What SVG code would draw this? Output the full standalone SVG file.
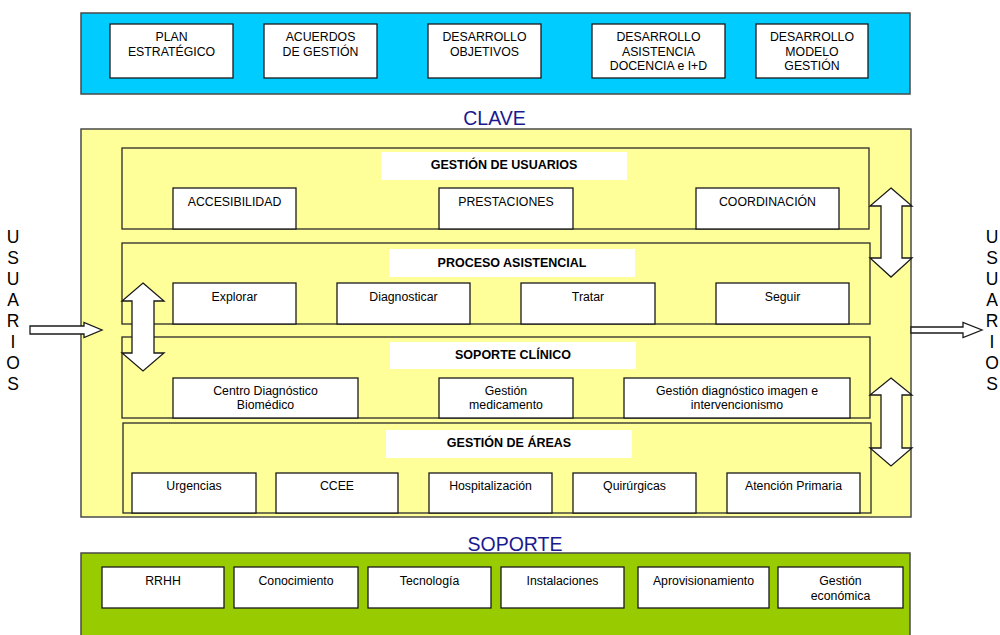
<svg xmlns="http://www.w3.org/2000/svg" width="1000" height="635" viewBox="0 0 1000 635">
<style>
text{font-family:"Liberation Sans",Arial,sans-serif;fill:#000;text-anchor:middle}
.t{font-size:12.3px}
.b{font-size:12.5px;font-weight:bold}
.hdr{font-size:19.5px;fill:#1a1a8f}
.usr{font-size:17.5px}
.box{fill:#fff;stroke:#1a1a1a;stroke-width:1.3}
.lane{fill:#ffff99;stroke:#2a2a2a;stroke-width:1.3}
.band{stroke:#4a4a4a;stroke-width:1.5}
.ttl{fill:#fff;stroke:none}
.arr{fill:#fff;stroke:#1a1a1a;stroke-width:1.3;stroke-linejoin:miter}
</style>
<rect width="1000" height="635" fill="#fff"/>

<g id="estrategia">
<rect class="band" x="81" y="13" width="829" height="81" fill="#00ccff"/>
<g id="plan"><rect class="box" x="110" y="24" width="123" height="54"/><text class="t" x="171.5" y="41">PLAN</text><text class="t" x="171.5" y="55.5">ESTRATÉGICO</text></g>
<g id="acuerdos"><rect class="box" x="264" y="24" width="113" height="54"/><text class="t" x="320.5" y="41">ACUERDOS</text><text class="t" x="320.5" y="55.5">DE GESTIÓN</text></g>
<g id="objetivos"><rect class="box" x="428" y="24" width="113" height="54"/><text class="t" x="484.5" y="41">DESARROLLO</text><text class="t" x="484.5" y="55.5">OBJETIVOS</text></g>
<g id="asistencia"><rect class="box" x="592" y="24" width="133" height="54"/><text class="t" x="658.5" y="41">DESARROLLO</text><text class="t" x="658.5" y="55.5">ASISTENCIA</text><text class="t" x="658.5" y="70">DOCENCIA e I+D</text></g>
<g id="modelo"><rect class="box" x="756" y="24" width="112" height="54"/><text class="t" x="812" y="41">DESARROLLO</text><text class="t" x="812" y="55.5">MODELO</text><text class="t" x="812" y="70">GESTIÓN</text></g>
</g>

<text class="hdr" x="494.5" y="125">CLAVE</text>

<g id="clave">
<rect class="band" x="81" y="129" width="830" height="388" fill="#ffff99"/>
<g id="gestion-usuarios">
<rect class="lane" x="122" y="148" width="747" height="81"/>
<rect class="ttl" x="381" y="152" width="246" height="28"/>
<text class="b" x="504" y="169">GESTIÓN DE USUARIOS</text>
<g id="accesibilidad"><rect class="box" x="173" y="188" width="123" height="41"/><text class="t" x="234.5" y="206">ACCESIBILIDAD</text></g>
<g id="prestaciones"><rect class="box" x="439" y="188" width="134" height="41"/><text class="t" x="506" y="206">PRESTACIONES</text></g>
<g id="coordinacion"><rect class="box" x="696" y="188" width="143" height="41"/><text class="t" x="767.5" y="206">COORDINACIÓN</text></g>
</g>
<g id="proceso-asistencial">
<rect class="lane" x="122" y="243" width="748" height="81"/>
<rect class="ttl" x="389" y="249" width="246" height="28"/>
<text class="b" x="512" y="267">PROCESO ASISTENCIAL</text>
<g id="explorar"><rect class="box" x="173" y="283" width="123" height="41"/><text class="t" x="234.5" y="300.5">Explorar</text></g>
<g id="diagnosticar"><rect class="box" x="337" y="283" width="133" height="41"/><text class="t" x="403.5" y="300.5">Diagnosticar</text></g>
<g id="tratar"><rect class="box" x="521" y="283" width="134" height="41"/><text class="t" x="588" y="300.5">Tratar</text></g>
<g id="seguir"><rect class="box" x="716" y="283" width="133" height="41"/><text class="t" x="782.5" y="300.5">Seguir</text></g>
</g>
<g id="soporte-clinico">
<rect class="lane" x="122" y="337" width="748" height="81"/>
<rect class="ttl" x="390" y="342" width="246" height="27"/>
<text class="b" x="513" y="359">SOPORTE CLÍNICO</text>
<g id="centro-diagnostico"><rect class="box" x="173" y="378" width="185" height="40"/><text class="t" x="265.5" y="395">Centro Diagnóstico</text><text class="t" x="265.5" y="409">Biomédico</text></g>
<g id="gestion-medicamento"><rect class="box" x="439" y="378" width="134" height="40"/><text class="t" x="506" y="395">Gestión</text><text class="t" x="506" y="409">medicamento</text></g>
<g id="diagnostico-imagen"><rect class="box" x="624" y="378" width="226" height="40"/><text class="t" x="737" y="395">Gestión diagnóstico imagen e</text><text class="t" x="737" y="409">intervencionismo</text></g>
</g>
<g id="gestion-areas">
<rect class="lane" x="123" y="423" width="748" height="90"/>
<rect class="ttl" x="386" y="430" width="246" height="28"/>
<text class="b" x="509" y="447">GESTIÓN DE ÁREAS</text>
<g id="urgencias"><rect class="box" x="132" y="473" width="124" height="40"/><text class="t" x="194" y="490">Urgencias</text></g>
<g id="ccee"><rect class="box" x="276" y="473" width="122" height="40"/><text class="t" x="337" y="490">CCEE</text></g>
<g id="hospitalizacion"><rect class="box" x="429" y="473" width="123" height="40"/><text class="t" x="490.5" y="490">Hospitalización</text></g>
<g id="quirurgicas"><rect class="box" x="573" y="473" width="123" height="40"/><text class="t" x="634.5" y="490">Quirúrgicas</text></g>
<g id="atencion-primaria"><rect class="box" x="727" y="473" width="133" height="40"/><text class="t" x="793.5" y="490">Atención Primaria</text></g>
</g>
</g>

<text class="hdr" x="515" y="551">SOPORTE</text>

<g id="soporte">
<rect class="band" x="81" y="553" width="829" height="90" fill="#99cc00"/>
<g id="rrhh"><rect class="box" x="102" y="567" width="122" height="41"/><text class="t" x="163" y="585">RRHH</text></g>
<g id="conocimiento"><rect class="box" x="234" y="567" width="124" height="41"/><text class="t" x="296" y="585">Conocimiento</text></g>
<g id="tecnologia"><rect class="box" x="368" y="567" width="123" height="41"/><text class="t" x="429.5" y="585">Tecnología</text></g>
<g id="instalaciones"><rect class="box" x="501" y="567" width="123" height="41"/><text class="t" x="562.5" y="585">Instalaciones</text></g>
<g id="aprovisionamiento"><rect class="box" x="638" y="567" width="131" height="41"/><text class="t" x="703.5" y="585">Aprovisionamiento</text></g>
<g id="gestion-economica"><rect class="box" x="778" y="567" width="125" height="41"/><text class="t" x="840.5" y="585">Gestión</text><text class="t" x="840.5" y="599.5">económica</text></g>
</g>

<g id="usuarios-izq">
<text class="usr" x="13" y="243">U</text><text class="usr" x="13" y="264">S</text><text class="usr" x="13" y="285">U</text><text class="usr" x="13" y="306">A</text><text class="usr" x="13" y="327">R</text><text class="usr" x="13" y="348">I</text><text class="usr" x="13" y="369">O</text><text class="usr" x="13" y="390">S</text>
</g>
<g id="usuarios-der">
<text class="usr" x="992" y="243">U</text><text class="usr" x="992" y="264">S</text><text class="usr" x="992" y="285">U</text><text class="usr" x="992" y="306">A</text><text class="usr" x="992" y="327">R</text><text class="usr" x="992" y="348">I</text><text class="usr" x="992" y="369">O</text><text class="usr" x="992" y="390">S</text>
</g>

<g id="connectors">
<path class="arr" d="M30,326 H84 V322.5 L102,330 L84,337.5 V334 H30 Z"/>
<path class="arr" d="M911,327 H963 V322.5 L982,330 L963,337.5 V333 H911 Z"/>
<path class="arr" d="M143,283 L164,301 H154 V353 H164 L143,371 L122,353 H132 V301 H122 Z"/>
<path class="arr" d="M891,188 L912,206 H902 V258 H912 L891,277 L870,258 H881 V206 H870 Z"/>
<path class="arr" d="M891,378 L912,395 H902 V448 H912 L891,466 L870,448 H881 V395 H870 Z"/>
</g>
</svg>
